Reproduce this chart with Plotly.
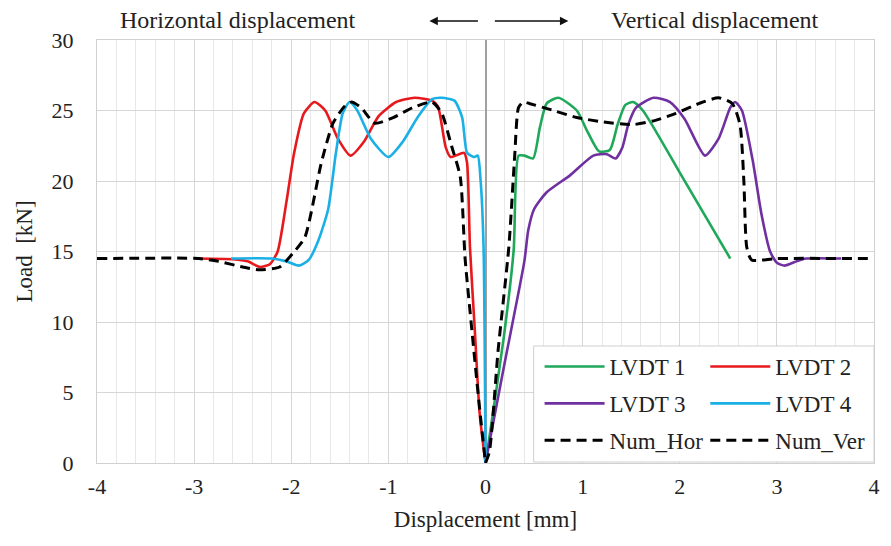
import plotly.graph_objects as go

# ---------------- data ----------------
lvdt1_x = [0, 0.05, 0.19, 0.29, 0.34, 0.40, 0.49, 0.56, 0.63, 0.75, 0.94, 1.05, 1.17, 1.28, 1.36, 1.44, 1.52, 1.62, 2.0, 2.52]
lvdt1_y = [0, 2.3, 9.0, 15.1, 21.8, 21.8, 21.6, 23.8, 25.5, 25.9, 25.0, 23.5, 22.1, 22.2, 24.0, 25.4, 25.6, 25.0, 20.6, 14.5]

lvdt2_x = [-2.98, -2.6, -2.45, -2.32, -2.22, -2.14, -2.05, -1.97, -1.87, -1.76, -1.65, -1.52, -1.39, -1.25, -1.1, -0.92,
           -0.73, -0.55, -0.49, -0.41, -0.36, -0.22, -0.19, -0.16, -0.11, -0.06, 0]
lvdt2_y = [14.5, 14.45, 14.3, 13.9, 14.1, 15.0, 18.5, 22.0, 24.8, 25.6, 25.0, 23.0, 21.8, 22.8, 24.6, 25.6,
           25.9, 25.7, 25.3, 22.4, 21.7, 22.0, 21.3, 15.3, 9.4, 3.5, 0]

lvdt3_x = [0, 0.2, 0.40, 0.44, 0.50, 0.63, 0.87, 1.11, 1.25, 1.34, 1.41, 1.47, 1.55, 1.73, 1.90, 2.05, 2.26, 2.40,
           2.52, 2.57, 2.64, 2.75, 2.84, 2.93, 3.0, 3.08, 3.2, 3.3, 3.66]
lvdt3_y = [0, 7.2, 14.3, 16.5, 18.0, 19.2, 20.4, 21.8, 21.9, 21.6, 22.4, 24.0, 25.2, 25.9, 25.6, 24.4, 21.8, 23.0,
           25.2, 25.6, 25.0, 21.5, 17.7, 15.0, 14.2, 14.0, 14.3, 14.5, 14.5]

lvdt4_x = [-2.62, -2.2, -2.05, -1.92, -1.82, -1.72, -1.62, -1.54, -1.47, -1.40, -1.32, -1.18, -1.0, -0.85, -0.7,
           -0.55, -0.45, -0.32, -0.24, -0.19, -0.12, -0.08, -0.05, -0.02, 0]
lvdt4_y = [14.5, 14.5, 14.3, 14.0, 14.4, 15.8, 18.0, 22.0, 24.8, 25.6, 25.0, 23.0, 21.7, 22.8, 24.5,
           25.8, 25.9, 25.7, 24.5, 22.0, 21.7, 21.8, 20.0, 15.3, 0]

numhor_x = [-4, -2.95, -2.75, -2.5, -2.33, -2.12, -1.98, -1.86, -1.69, -1.57, -1.45, -1.38, -1.28, -1.14, -0.95,
            -0.75, -0.55, -0.45, -0.35, -0.26, -0.21, -0.14, -0.07, 0]
numhor_y = [14.5, 14.5, 14.3, 13.9, 13.7, 13.9, 14.9, 16.0, 21.3, 24.1, 25.3, 25.6, 25.2, 24.1, 24.5,
            25.2, 25.6, 24.8, 22.5, 20.3, 14.5, 9.4, 4.5, 0]

numver_x = [0, 0.04, 0.13, 0.24, 0.30, 0.34, 0.39, 0.45, 0.7, 0.94, 1.2, 1.52, 1.75, 1.96, 2.2, 2.40, 2.54, 2.62,
            2.66, 2.69, 2.74, 3.0, 4.0]
numver_y = [0, 0.8, 8.0, 15.3, 21.7, 25.2, 25.6, 25.5, 25.0, 24.5, 24.2, 24.0, 24.3, 24.8, 25.5, 25.9, 25.5, 24.0,
            20.0, 15.3, 14.4, 14.5, 14.5]

x_ticks = [-4, -3, -2, -1, 0, 1, 2, 3, 4]
y_ticks = [0, 5, 10, 15, 20, 25, 30]

# ---------------- figure ----------------
FONT = "Liberation Serif"
fig = go.Figure()

series = [
    ("LVDT 1", lvdt1_x, lvdt1_y, "#1fa85a", "solid", "legend"),
    ("LVDT 3", lvdt3_x, lvdt3_y, "#7030a0", "solid", "legend"),
    ("Num_Hor", numhor_x, numhor_y, "#000000", "dash", "legend"),
    ("LVDT 2", lvdt2_x, lvdt2_y, "#e8191d", "solid", "legend2"),
    ("LVDT 4", lvdt4_x, lvdt4_y, "#1ab0e6", "solid", "legend2"),
    ("Num_Ver", numver_x, numver_y, "#000000", "dash", "legend2"),
]
draw_order = ["LVDT 1", "LVDT 2", "LVDT 3", "LVDT 4", "Num_Hor", "Num_Ver"]
lookup = {s[0]: s for s in series}
legend_rank = {s[0]: i for i, s in enumerate(series)}
for name in draw_order:
    _, xs, ys, col, dash, leg = lookup[name]
    fig.add_trace(go.Scatter(
        x=xs, y=ys, name=name, mode="lines",
        line=dict(color=col, width=3 if dash == "dash" else 2.6,
                  dash="10px,6px" if dash == "dash" else "solid",
                  shape="spline", smoothing=0.6),
        legend=leg, legendgroup=name, legendrank=legend_rank[name],
        hoverinfo="skip",
    ))

L, R, T, B = 97, 11, 40, 83
W, H = 891, 546
pw, ph = W - L - R, H - T - B

def px2x(px):
    return (px - L) / pw

def py2y(py):
    return (H - B - py) / ph

leg_font = dict(family=FONT, size=23, color="#222222")
fig.update_layout(
    width=W, height=H,
    margin=dict(l=L, r=R, t=T, b=B),
    paper_bgcolor="white", plot_bgcolor="white",
    font=dict(family=FONT, size=22, color="#222222"),
    legend=dict(x=px2x(543), y=py2y(345), xanchor="left", yanchor="top",
                bgcolor="rgba(0,0,0,0)", font=leg_font,
                tracegroupgap=4, itemwidth=60),
    legend2=dict(x=px2x(710), y=py2y(345), xanchor="left", yanchor="top",
                 bgcolor="rgba(0,0,0,0)", font=leg_font,
                 tracegroupgap=4, itemwidth=60),
    xaxis=dict(
        range=[-4, 4], tickvals=x_ticks, ticktext=[str(v) for v in x_ticks],
        showgrid=True, gridcolor="#d6d6d6", gridwidth=1,
        minor=dict(dtick=0.2, showgrid=True, gridcolor="#e8e8e8", gridwidth=1),
        zeroline=True, zerolinecolor="#a0a0a0", zerolinewidth=2,
        showline=True, mirror=True, linecolor="#d0d0d0", linewidth=1,
        ticks="", tickfont=dict(size=22), ticklabelstandoff=4,
        title=dict(text="Displacement [mm]", font=dict(size=23), standoff=12),
    ),
    yaxis=dict(
        range=[0, 30], tickvals=y_ticks,
        showgrid=True, gridcolor="#d6d6d6", gridwidth=1,
        zeroline=False,
        showline=True, mirror=True, linecolor="#d0d0d0", linewidth=1,
        ticks="", tickfont=dict(size=22), ticklabelstandoff=18,
        title=dict(text="Load  [kN]", font=dict(size=23), standoff=12),
    ),
    showlegend=True,
)

# legend box
fig.add_shape(type="rect", xref="paper", yref="paper",
              x0=px2x(537), x1=1.0, y0=py2y(462), y1=py2y(346),
              line=dict(color="#cfcfcf", width=1), fillcolor="white", layer="above")

# header texts and arrows
fig.add_annotation(text="Horizontal displacement", xref="paper", yref="paper",
                   x=px2x(239), y=py2y(20), xanchor="center", yanchor="middle",
                   showarrow=False, font=dict(size=24, color="#222222"))
fig.add_annotation(text="Vertical displacement", xref="paper", yref="paper",
                   x=px2x(720), y=py2y(20), xanchor="center", yanchor="middle",
                   showarrow=False, font=dict(size=24, color="#222222"))
fig.add_annotation(text="", xref="paper", yref="paper", x=px2x(432), y=py2y(21),
                   ax=50, ay=0, showarrow=True, arrowhead=2, arrowsize=1.2, arrowwidth=1.4,
                   arrowcolor="#111111")
fig.add_annotation(text="", xref="paper", yref="paper", x=px2x(572), y=py2y(21),
                   ax=-75, ay=0, showarrow=True, arrowhead=2, arrowsize=1.2, arrowwidth=1.4,
                   arrowcolor="#111111")

fig.write_html("out.html")
